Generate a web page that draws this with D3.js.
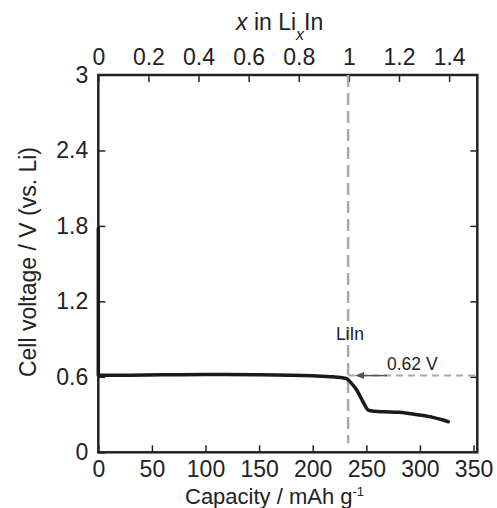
<!DOCTYPE html>
<html><head><meta charset="utf-8">
<script src="https://cdn.jsdelivr.net/npm/d3@7"></script>
<style>
body{margin:0;background:#fff;}
text{font-family:"Liberation Sans",Arial,Helvetica,sans-serif;fill:#222;}
</style></head>
<body><svg id="c" width="497" height="508"></svg>
<script>
// Data
const capacity = [0, 0, 10, 30, 60, 100, 150, 200, 219, 226, 231.6, 236, 241, 247, 251.8, 258, 265.8, 280, 300, 312, 321.7, 326.4];
const voltage  = [1.78, 0.612, 0.612, 0.613, 0.616, 0.618, 0.616, 0.608, 0.600, 0.594, 0.585, 0.55, 0.495, 0.40, 0.336, 0.326, 0.322, 0.318, 0.296, 0.278, 0.257, 0.243];
const capTicks = [0, 50, 100, 150, 200, 250, 300, 350];
const xTicks = [0, 0.2, 0.4, 0.6, 0.8, 1, 1.2, 1.4];
const vTicks = [0, 0.6, 1.2, 1.8, 2.4, 3];
const liInCapacity = 233;   // LiIn composition (x = 1)
const refVoltage = 0.61;    // 0.62 V reference line position
const refLabel = "0.62 V";

const L = 98.3, R = 477.3, T = 75, B = 452.3;
const svg = d3.select("#c");
const x = d3.scaleLinear().domain([0, 353.5]).range([L, R]);
const xTop = d3.scaleLinear().domain([0, 1.5125]).range([L, R]);
const y = d3.scaleLinear().domain([0, 3]).range([B, T]);

const fs = 23;
function styleAxis(g){
  g.select(".domain").remove();
  g.selectAll(".tick line").attr("stroke","#222").attr("stroke-width",1.5);
  g.selectAll(".tick text").attr("font-size",fs).attr("fill","#222")
    .attr("font-family","Liberation Sans, Arial, sans-serif");
}
svg.append("g").attr("transform",`translate(0,${B})`)
  .call(d3.axisBottom(x).tickValues(capTicks).tickSize(-7).tickPadding(8).tickFormat(d3.format("d")))
  .call(styleAxis);
svg.append("g").attr("transform",`translate(0,${T})`)
  .call(d3.axisTop(xTop).tickValues(xTicks).tickSize(-7).tickPadding(10).tickFormat(d=>String(d)))
  .call(styleAxis);
svg.append("g").attr("transform",`translate(${L},0)`)
  .call(d3.axisLeft(y).tickValues(vTicks).tickSize(-7).tickPadding(10).tickFormat(d=>String(d)))
  .call(styleAxis)
  .call(g=>g.selectAll(".tick").filter(d=>d===3).select("line").remove());
svg.append("g").attr("transform",`translate(${R},0)`)
  .call(d3.axisRight(y).tickValues(vTicks.filter(d=>d>0&&d<3)).tickSize(-7).tickFormat(""))
  .call(styleAxis);

// frame
svg.append("rect").attr("x",L).attr("y",T).attr("width",R-L).attr("height",B-T)
  .attr("fill","none").attr("stroke","#222").attr("stroke-width",2.5);

// reference lines
svg.append("line").attr("x1",x(liInCapacity)).attr("x2",x(liInCapacity))
  .attr("y1",T).attr("y2",B-9).attr("stroke","#aaa").attr("stroke-width",2.5)
  .attr("stroke-dasharray","12,6");
svg.append("line").attr("x1",x(liInCapacity)).attr("x2",R)
  .attr("y1",y(refVoltage)).attr("y2",y(refVoltage)).attr("stroke","#aaa").attr("stroke-width",2)
  .attr("stroke-dasharray","7,5");

// curve
svg.append("path").datum(capacity.map((c,i)=>[c,voltage[i]]))
  .attr("d",d3.line().x(d=>x(d[0])).y(d=>y(d[1])).curve(d3.curveMonotoneX))
  .attr("fill","none").attr("stroke","#1a1a1a").attr("stroke-width",3.5)
  .attr("stroke-linejoin","round").attr("stroke-linecap","round");

// arrow
const ay = y(refVoltage);
svg.append("line").attr("x1",387).attr("x2",362).attr("y1",ay).attr("y2",ay)
  .attr("stroke","#555").attr("stroke-width",1.5);
svg.append("path").attr("d",`M355,${ay} L364,${ay-3.5} L364,${ay+3.5} Z`).attr("fill","#555");

// annotations
svg.append("text").attr("x",350).attr("y",340).attr("text-anchor","middle").attr("font-size",17.5).text("LiIn");
svg.append("text").attr("x",387).attr("y",370).attr("font-size",17.5).text(refLabel);

// axis titles
const bt = svg.append("text").attr("x",185).attr("y",504).attr("font-size",22);
bt.append("tspan").text("Capacity / mAh g");
bt.append("tspan").attr("dy",-8).attr("font-size",13).text("-1");

const tt = svg.append("text").attr("x",236).attr("y",30).attr("font-size",23);
tt.append("tspan").attr("font-style","italic").text("x");
tt.append("tspan").text(" in Li");
tt.append("tspan").attr("font-style","italic").attr("dy",10).attr("font-size",16).text("x");
tt.append("tspan").attr("dy",-10).text("In");

svg.append("text").attr("transform","translate(36,262) rotate(-90)")
  .attr("text-anchor","middle").attr("font-size",23).text("Cell voltage / V (vs. Li)");
</script></body></html>
